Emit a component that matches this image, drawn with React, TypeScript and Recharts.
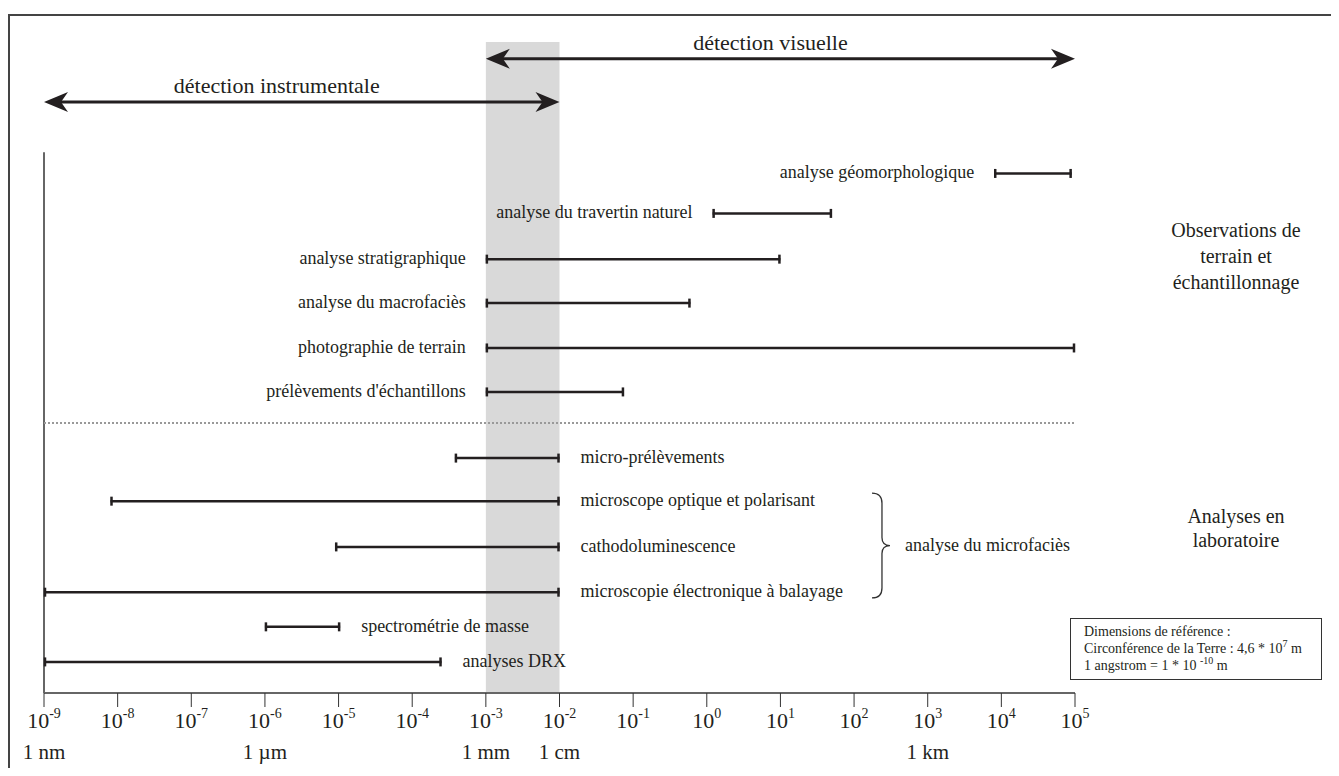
import React from "react";
import { ComposedChart, XAxis, YAxis, ReferenceLine, ReferenceArea } from "recharts";

// log scale, one tick per decade (metres)
const decadeTicks = [1e-9, 1e-8, 1e-7, 1e-6, 1e-5, 1e-4, 1e-3, 1e-2, 1e-1, 1e0, 1e1, 1e2, 1e3, 1e4, 1e5];

const unitLabels = [
  { value: 1e-9, label: "1 nm" },
  { value: 1e-6, label: "1 µm" },
  { value: 1e-3, label: "1 mm" },
  { value: 1e-2, label: "1 cm" },
  { value: 1e3, label: "1 km" },
];

// terrain methods: label on the left of the range
const fieldMethods = [
  { name: "analyse géomorphologique", from: 8e3, to: 9e4, row: 11.7 },
  { name: "analyse du travertin naturel", from: 1.2, to: 50, row: 10.8 },
  { name: "analyse stratigraphique", from: 1e-3, to: 10, row: 9.77 },
  { name: "analyse du macrofaciès", from: 1e-3, to: 0.6, row: 8.78 },
  { name: "photographie de terrain", from: 1e-3, to: 1e5, row: 7.77 },
  { name: "prélèvements d'échantillons", from: 1e-3, to: 0.075, row: 6.78 },
];

// laboratory methods: label on the right of the range
const labMethods = [
  { name: "micro-prélèvements", from: 3.8e-4, to: 1e-2, row: 5.29 },
  { name: "microscope optique et polarisant", from: 8e-9, to: 1e-2, row: 4.32 },
  { name: "cathodoluminescence", from: 9e-6, to: 1e-2, row: 3.29 },
  { name: "microscopie électronique à balayage", from: 1e-9, to: 1e-2, row: 2.27 },
  { name: "spectrométrie de masse", from: 1e-6, to: 1.05e-5, row: 1.49 },
  { name: "analyses DRX", from: 1e-9, to: 2.5e-4, row: 0.7 },
];

const detectionRanges = [
  { name: "détection instrumentale", from: 1e-9, to: 1e-2, row: 13.31 },
  { name: "détection visuelle", from: 1e-3, to: 1e5, row: 14.28 },
];

const overlapBand = { from: 1e-3, to: 1e-2 };
const groupSeparator = 6.08;
const axisTop = 12.18;
const yDomain = [0, 14.66];
const microfacies = { at: 175, fromRow: 4.5, toRow: 2.14, label: "analyse du microfaciès" };

const INK = "#231f20";
const SERIF = "'Liberation Serif', 'Times New Roman', serif";
const detectionLabelShift = [-25, -10];

function DecadeTick(props: any) {
  const { x, y, payload } = props;
  const v = payload.value;
  const exp = Math.round(Math.log10(v));
  const unit = unitLabels.find((u) => Math.abs(Math.log10(u.value) - exp) < 0.01);
  return (
    <g fontFamily={SERIF} fill={INK}>
      <text x={x} y={y + 21} textAnchor="middle" fontSize={22} fill={INK}>
        10
        <tspan dy={-10} fontSize={14}>
          {exp}
        </tspan>
      </text>
      {unit && (
        <text x={x} y={y + 52} textAnchor="middle" fontSize={21} fill={INK}>
          {unit.label}
        </text>
      )}
    </g>
  );
}

const rangeShape = (label: string, side: "left" | "right") => (p: any) => {
  const left = Math.min(p.x1, p.x2);
  const right = Math.max(p.x1, p.x2);
  const y = p.y1;
  return (
    <g>
      <line x1={left} y1={y} x2={right} y2={y} stroke={INK} strokeWidth={2.5} />
      <line x1={left + 1} y1={y - 4.5} x2={left + 1} y2={y + 4.5} stroke={INK} strokeWidth={2.5} />
      <line x1={right - 1} y1={y - 4.5} x2={right - 1} y2={y + 4.5} stroke={INK} strokeWidth={2.5} />
      <text
        x={side === "left" ? left - 20 : right + 21}
        y={y + 5}
        textAnchor={side === "left" ? "end" : "start"}
        fontSize={18}
        fontFamily={SERIF}
        fill={INK}
      >
        {label}
      </text>
    </g>
  );
};

const arrowShape = (label: string, dx: number) => (p: any) => {
  const a = Math.min(p.x1, p.x2);
  const b = Math.max(p.x1, p.x2);
  const y = p.y1;
  const head = (tip: number, dir: number) =>
    `M${tip},${y} L${tip + dir * 24},${y - 10} L${tip + dir * 17},${y} L${tip + dir * 24},${y + 10} Z`;
  return (
    <g>
      <line x1={a + 12} y1={y} x2={b - 12} y2={y} stroke={INK} strokeWidth={3} />
      <path d={head(a, 1)} fill={INK} />
      <path d={head(b, -1)} fill={INK} />
      <text x={(a + b) / 2 + dx} y={y - 9} textAnchor="middle" fontSize={22} fontFamily={SERIF} fill={INK}>
        {label}
      </text>
    </g>
  );
};

const braceShape = (label: string) => (p: any) => {
  const top = Math.min(p.y1, p.y2);
  const bot = Math.max(p.y1, p.y2);
  const mid = (top + bot) / 2;
  const x0 = p.x1;
  const s = x0 + 10;
  const t = x0 + 18;
  const d = `M${x0},${top} Q${s},${top} ${s},${top + 10} L${s},${mid - 8} Q${s},${mid} ${t},${mid} Q${s},${mid} ${s},${mid + 8} L${s},${bot - 10} Q${s},${bot} ${x0},${bot}`;
  return (
    <g>
      <path d={d} fill="none" stroke="#333" strokeWidth={1.3} />
      <text x={x0 + 33} y={mid + 5} fontSize={18} fontFamily={SERIF} fill={INK}>
        {label}
      </text>
    </g>
  );
};

const supStyle: React.CSSProperties = { fontSize: 10, verticalAlign: "super", lineHeight: 0 };

export default function App() {
  return (
    <div style={{ paddingTop: 6 }}>
      <div
        style={{
          position: "relative",
          width: 1321,
          height: 752,
          borderTop: "2px solid #444",
          borderLeft: "2px solid #444",
          fontFamily: SERIF,
          color: INK,
        }}
      >
        <ComposedChart width={1321} height={752} margin={{ top: 26, right: 256, bottom: 0, left: 34 }}>
          <XAxis
            type="number"
            dataKey="x"
            scale="log"
            domain={[1e-9, 1e5]}
            allowDataOverflow
            ticks={decadeTicks}
            interval={0}
            tickSize={14}
            tickMargin={0}
            height={75}
            axisLine={{ stroke: "#666", strokeWidth: 2 }}
            tickLine={{ stroke: "#333", strokeWidth: 1 }}
            tick={<DecadeTick />}
          />
          <YAxis type="number" dataKey="y" domain={yDomain} allowDataOverflow hide width={0} />

          <ReferenceArea
            x1={overlapBand.from}
            x2={overlapBand.to}
            y1={yDomain[0]}
            y2={yDomain[1]}
            fill="#d9d9d9"
            fillOpacity={1}
            stroke="none"
            ifOverflow="visible"
          />

          <ReferenceLine
            segment={[
              { x: decadeTicks[0], y: 0 },
              { x: decadeTicks[0], y: axisTop },
            ]}
            stroke="#333"
            strokeWidth={1.5}
            ifOverflow="visible"
          />

          <ReferenceLine
            y={groupSeparator}
            stroke="#999"
            strokeWidth={2}
            strokeDasharray="2 2"
            ifOverflow="visible"
          />

          {detectionRanges.map((d, i) => (
            <ReferenceLine
              key={d.name}
              segment={[
                { x: d.from, y: d.row },
                { x: d.to, y: d.row },
              ]}
              ifOverflow="visible"
              shape={arrowShape(d.name, detectionLabelShift[i])}
            />
          ))}

          {fieldMethods.map((m) => (
            <ReferenceLine
              key={m.name}
              segment={[
                { x: m.from, y: m.row },
                { x: m.to, y: m.row },
              ]}
              ifOverflow="visible"
              shape={rangeShape(m.name, "left")}
            />
          ))}

          {labMethods.map((m) => (
            <ReferenceLine
              key={m.name}
              segment={[
                { x: m.from, y: m.row },
                { x: m.to, y: m.row },
              ]}
              ifOverflow="visible"
              shape={rangeShape(m.name, "right")}
            />
          ))}

          <ReferenceLine
            segment={[
              { x: microfacies.at, y: microfacies.fromRow },
              { x: microfacies.at, y: microfacies.toRow },
            ]}
            ifOverflow="visible"
            shape={braceShape(microfacies.label)}
          />
        </ComposedChart>

        <div
          style={{
            position: "absolute",
            left: 1126,
            top: 201,
            width: 200,
            textAlign: "center",
            fontSize: 20,
            lineHeight: "26px",
          }}
        >
          Observations de
          <br />
          terrain et
          <br />
          échantillonnage
        </div>

        <div
          style={{
            position: "absolute",
            left: 1126,
            top: 488,
            width: 200,
            textAlign: "center",
            fontSize: 20,
            lineHeight: "24px",
          }}
        >
          Analyses en
          <br />
          laboratoire
        </div>

        <div
          style={{
            position: "absolute",
            left: 1060,
            top: 602,
            width: 252,
            height: 62,
            border: "1px solid #333",
            fontSize: 14,
            lineHeight: "17px",
            padding: "4px 0 0 13px",
            boxSizing: "border-box",
          }}
        >
          Dimensions de référence :
          <br />
          Circonférence de la Terre : 4,6 * 10
          <span style={supStyle}>7</span> m
          <br />1 angstrom = 1 * 10 <span style={supStyle}>-10</span> m
        </div>
      </div>
    </div>
  );
}
